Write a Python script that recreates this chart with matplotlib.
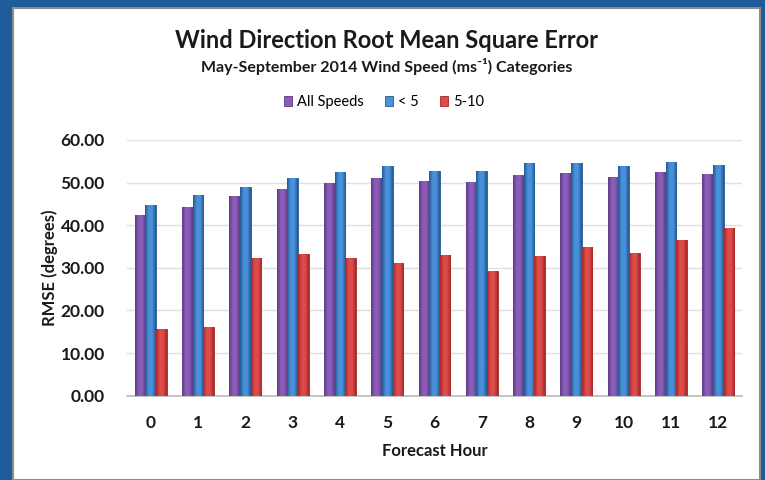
import numpy as np
import matplotlib
matplotlib.use("Agg")
import matplotlib.pyplot as plt
from matplotlib.colors import LinearSegmentedColormap
from matplotlib.patches import Rectangle

hours = ["0", "1", "2", "3", "4", "5", "6", "7", "8", "9", "10", "11", "12"]
all_speeds = [42.3, 44.3, 46.8, 48.5, 50.0, 51.1, 50.3, 50.2, 51.9, 52.3, 51.3, 52.6, 52.1]
below_5 = [44.8, 47.2, 48.9, 51.1, 52.6, 53.8, 52.8, 52.8, 54.5, 54.7, 53.8, 54.9, 54.2]
speed_5_10 = [15.7, 16.2, 32.4, 33.2, 32.4, 31.2, 33.1, 29.3, 32.8, 34.8, 33.4, 36.5, 39.3]
series_names = ["All Speeds", "< 5", "5-10"]

plt.rcParams["font.family"] = ["Lato", "DejaVu Sans"]

fig = plt.figure(figsize=(7.65, 4.8), dpi=100)
fig.patch.set_facecolor("#1F5C99")

# white chart area with a thin grey rim, like the slide frame
fig.add_artist(Rectangle((13 / 765, 0), 747 / 765, 1 - 8 / 480, transform=fig.transFigure,
                         facecolor="white", edgecolor="#8C8C8C", lw=1.5, zorder=0))

ax = fig.add_axes([127 / 765, 1 - 395.7 / 480, 615 / 765, 255.7 / 480])

x = np.arange(len(hours))
w = 0.225
colors = [("#5B3A82", "#8A5DB8"), ("#22578F", "#4A90DA"), ("#A32626", "#DE4B4B")]
data = [all_speeds, below_5, speed_5_10]

handles = []
for k, (vals, (dark, light)) in enumerate(zip(data, colors)):
    bars = ax.bar(x + (k - 1) * w, vals, w, color=light, edgecolor=dark, lw=0.6,
                  zorder=3, label=series_names[k])
    handles.append(bars)
    cmap = LinearSegmentedColormap.from_list("c%d" % k, [dark, light, light, dark])
    grad = np.linspace(0, 1, 64).reshape(1, -1)
    for b in bars:
        im = ax.imshow(grad, extent=(b.get_x(), b.get_x() + b.get_width(), 0, b.get_height()),
                       aspect="auto", cmap=cmap, zorder=3.5, interpolation="bicubic")
        im.set_clip_path(b)

ax.set_xlim(-0.5, len(hours) - 0.5)
ax.set_ylim(0, 60)
ax.set_yticks(np.arange(0, 61, 10))
ax.set_yticklabels(["%.2f" % v for v in np.arange(0, 61, 10)])
ax.set_xticks(x)
ax.set_xticklabels(hours)
ax.grid(axis="y", color="#E0E0E0", lw=1, zorder=0)
ax.set_axisbelow(True)
for s in ["top", "right", "left"]:
    ax.spines[s].set_visible(False)
ax.spines["bottom"].set_color("#BFBFBF")
ax.spines["bottom"].set_linewidth(1.3)
ax.tick_params(axis="both", length=0, labelsize=12.5, colors="#1A1A1A")
ax.tick_params(axis="x", pad=14)
ax.tick_params(axis="y", pad=16)
for t in ax.get_xticklabels() + ax.get_yticklabels():
    t.set_fontweight("bold")

ax.set_ylabel("RMSE (degrees)", fontsize=12, fontweight="bold", color="#1A1A1A")
ax.yaxis.set_label_coords(-0.112, 0.5)
ax.set_xlabel("Forecast Hour", fontsize=12, fontweight="bold", color="#1A1A1A")
ax.xaxis.set_label_coords(0.5, -0.185)

fig.text(0.505, 0.9, "Wind Direction Root Mean Square Error", ha="center", va="baseline",
         fontsize=17, fontweight="bold", color="#1A1A1A")
fig.text(0.505, 0.851, "May-September 2014 Wind Speed (ms⁻¹) Categories", ha="center",
         va="baseline", fontsize=11.5, fontweight="bold", color="#1A1A1A")

fig.legend(handles=handles, loc="center", bbox_to_anchor=(0.502, 0.787), ncol=3,
           frameon=False, fontsize=10.5, handlelength=0.6, handleheight=0.6,
           handletextpad=0.35, columnspacing=1.4)

fig.savefig("out.png", dpi=100, facecolor=fig.get_facecolor())
